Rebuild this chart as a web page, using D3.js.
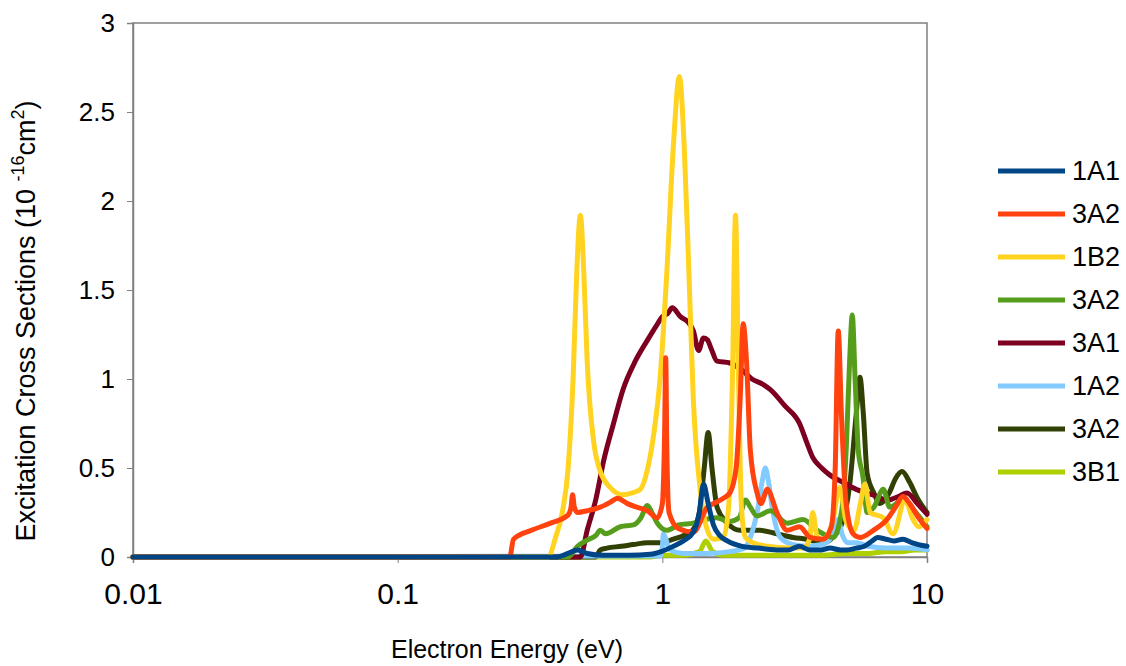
<!DOCTYPE html>
<html>
<head>
<meta charset="utf-8">
<script src="https://cdn.jsdelivr.net/npm/d3@7"></script>
<style>
  body { margin: 0; background: #fff; }
  svg { font-family: "Liberation Sans", Arial, sans-serif; }
</style>
</head>
<body>
<svg id="chart" width="1126" height="666"></svg>
<script>
// legend order
const seriesNames = ["1A1", "3A2", "1B2", "3A2", "3A1", "1A2", "3A2", "3B1"];
const seriesColors = ["#004586", "#ff420e", "#ffd320", "#579d1c", "#7e0021", "#83caff", "#314004", "#aecf00"];

const xTicks = [0.01, 0.1, 1, 10];
const xTickLabels = ["0.01", "0.1", "1", "10"];
const yTicks = [0, 0.5, 1, 1.5, 2, 2.5, 3];
const yTickLabels = ["0", "0.5", "1", "1.5", "2", "2.5", "3"];

// energies (eV) and cross sections (10^-16 cm2)
const e1A1 = [0.01, 0.4, 0.44, 0.478, 0.52, 0.6, 0.75, 0.9, 0.99, 1.1, 1.2, 1.31, 1.38, 1.43, 1.49, 1.56, 1.65, 1.76, 2.0, 2.3, 2.7, 3.0, 3.3, 3.6, 4.0, 4.3, 4.7, 5.0, 5.4, 5.8, 6.2, 6.5, 7.0, 7.5, 8.1, 8.8, 10];
const v1A1 = [0, 0, 0.02, 0.04, 0.02, 0.01, 0.01, 0.015, 0.03, 0.06, 0.09, 0.14, 0.25, 0.41, 0.3, 0.18, 0.12, 0.09, 0.06, 0.05, 0.04, 0.04, 0.06, 0.04, 0.04, 0.05, 0.04, 0.04, 0.05, 0.06, 0.09, 0.11, 0.1, 0.09, 0.1, 0.08, 0.06];

const e3A2a = [0.01, 0.265, 0.274, 0.32, 0.378, 0.44, 0.452, 0.458, 0.465, 0.478, 0.52, 0.583, 0.64, 0.676, 0.738, 0.8, 0.878, 0.957, 1.0, 1.02, 1.03, 1.04, 1.06, 1.15, 1.31, 1.48, 1.56, 1.7, 1.8, 1.9, 1.97, 2.02, 2.08, 2.15, 2.28, 2.36, 2.49, 2.71, 2.96, 3.3, 3.62, 4.05, 4.35, 4.5, 4.62, 4.75, 4.95, 5.26, 5.58, 6.27, 7.05, 7.6, 8.1, 8.6, 9.3, 10];
const v3A2a = [0, 0, 0.1, 0.15, 0.19, 0.235, 0.28, 0.35, 0.28, 0.25, 0.26, 0.28, 0.31, 0.33, 0.3, 0.28, 0.26, 0.22, 0.3, 0.7, 1.12, 0.6, 0.25, 0.16, 0.14, 0.28, 0.3, 0.33, 0.36, 0.5, 0.9, 1.31, 1.1, 0.6, 0.36, 0.3, 0.38, 0.25, 0.15, 0.17, 0.11, 0.1, 0.17, 0.5, 1.27, 0.8, 0.3, 0.13, 0.11, 0.15, 0.21, 0.28, 0.34, 0.3, 0.22, 0.16];

const e1B2 = [0.01, 0.37, 0.395, 0.42, 0.44, 0.46, 0.475, 0.49, 0.505, 0.52, 0.55, 0.58, 0.636, 0.71, 0.77, 0.826, 0.878, 0.93, 0.98, 1.04, 1.1, 1.16, 1.21, 1.26, 1.31, 1.39, 1.48, 1.56, 1.7, 1.78, 1.84, 1.89, 1.94, 1.99, 2.06, 2.2, 2.5, 3.0, 3.4, 3.6, 3.7, 3.85, 4.05, 4.4, 4.68, 4.95, 5.3, 5.6, 5.83, 6.1, 6.84, 7.44, 8.27, 8.8, 9.3, 10];
const v1B2 = [0, 0, 0.11, 0.26, 0.49, 1.0, 1.6, 1.92, 1.6, 1.1, 0.65, 0.49, 0.39, 0.35, 0.36, 0.38, 0.49, 0.7, 1.0, 1.6, 2.3, 2.7, 2.3, 1.6, 0.88, 0.38, 0.15, 0.1, 0.11, 0.28, 1.0, 1.92, 1.0, 0.28, 0.11, 0.08, 0.06, 0.05, 0.05, 0.1, 0.25, 0.11, 0.1, 0.2, 0.39, 0.2, 0.15, 0.3, 0.41, 0.25, 0.22, 0.13, 0.32, 0.22, 0.17, 0.21];

const e3A2b = [0.01, 0.44, 0.478, 0.52, 0.56, 0.583, 0.61, 0.694, 0.777, 0.83, 0.878, 0.92, 0.957, 1.04, 1.15, 1.31, 1.45, 1.6, 1.8, 1.95, 2.06, 2.15, 2.28, 2.56, 2.96, 3.4, 3.85, 4.42, 4.75, 4.95, 5.1, 5.22, 5.35, 5.5, 5.73, 5.94, 6.3, 6.84, 7.23, 8.1, 8.7, 10];
const v3A2b = [0, 0, 0.06, 0.095, 0.12, 0.15, 0.13, 0.17, 0.18, 0.22, 0.29, 0.24, 0.19, 0.15, 0.18, 0.19, 0.21, 0.22, 0.2, 0.22, 0.32, 0.28, 0.23, 0.26, 0.19, 0.21, 0.15, 0.11, 0.25, 0.6, 1.1, 1.36, 1.0, 0.6, 0.45, 0.25, 0.28, 0.38, 0.28, 0.32, 0.28, 0.17];

const e3A1 = [0.01, 0.49, 0.52, 0.56, 0.6, 0.654, 0.71, 0.79, 0.88, 0.95, 1.0, 1.05, 1.09, 1.17, 1.25, 1.31, 1.37, 1.43, 1.48, 1.53, 1.61, 1.8, 2.0, 2.18, 2.4, 2.56, 2.9, 3.3, 3.5, 3.7, 4.0, 4.3, 4.8, 5.4, 6.2, 7.1, 7.8, 8.4, 9.2, 10];
const v3A1 = [0, 0, 0.15, 0.32, 0.54, 0.75, 0.94, 1.1, 1.22, 1.3, 1.35, 1.37, 1.4, 1.35, 1.32, 1.27, 1.16, 1.23, 1.22, 1.17, 1.1, 1.09, 1.05, 1.0, 0.97, 0.94, 0.85, 0.75, 0.65, 0.56, 0.5, 0.46, 0.42, 0.38, 0.35, 0.32, 0.34, 0.36, 0.3, 0.24];

const e1A2 = [0.01, 0.98, 1.0, 1.01, 1.03, 1.07, 1.2, 1.5, 1.8, 2.05, 2.15, 2.3, 2.38, 2.45, 2.52, 2.6, 2.79, 3.1, 3.5, 4.0, 4.4, 4.6, 4.8, 5.0, 5.4, 6.0, 7.0, 8.5, 10];
const v1A2 = [0, 0.005, 0.06, 0.13, 0.1, 0.04, 0.02, 0.02, 0.03, 0.05, 0.11, 0.28, 0.42, 0.5, 0.42, 0.28, 0.11, 0.07, 0.06, 0.07, 0.12, 0.21, 0.12, 0.08, 0.08, 0.06, 0.05, 0.05, 0.04];

const e3A2c = [0.01, 0.56, 0.583, 0.617, 0.7, 0.777, 0.88, 0.99, 1.1, 1.2, 1.3, 1.38, 1.44, 1.49, 1.54, 1.61, 1.76, 1.97, 2.34, 2.71, 3.12, 3.5, 4.05, 4.4, 4.8, 5.1, 5.4, 5.58, 5.75, 5.94, 6.3, 6.65, 7.2, 7.6, 8.05, 8.6, 9.2, 10];
const v3A2c = [0, 0, 0.04, 0.05, 0.06, 0.07, 0.08, 0.08, 0.1, 0.12, 0.15, 0.25, 0.5, 0.7, 0.5, 0.28, 0.19, 0.15, 0.15, 0.13, 0.11, 0.1, 0.08, 0.11, 0.2, 0.4, 0.8, 1.01, 0.8, 0.47, 0.36, 0.3, 0.36, 0.44, 0.48, 0.42, 0.33, 0.25];

const e3B1 = [0.01, 0.9, 1.0, 1.2, 1.38, 1.46, 1.55, 1.7, 2.0, 3.0, 4.0, 5.0, 6.0, 7.0, 8.0, 9.0, 10];
const v3B1 = [0, 0, 0.01, 0.01, 0.03, 0.09, 0.03, 0.01, 0.01, 0.01, 0.01, 0.02, 0.02, 0.03, 0.03, 0.04, 0.04];

const energies = [e1A1, e3A2a, e1B2, e3A2b, e3A1, e1A2, e3A2c, e3B1];
const values = [v1A1, v3A2a, v1B2, v3A2b, v3A1, v1A2, v3A2c, v3B1];

const svg = d3.select("#chart");
const plot = {left: 133, right: 927, top: 23, bottom: 557};

const x = d3.scaleLog().domain([0.01, 10]).range([plot.left, plot.right]);
const y = d3.scaleLinear().domain([0, 3]).range([plot.bottom, plot.top]);

// frame
svg.append("rect")
    .attr("x", plot.left).attr("y", plot.top)
    .attr("width", plot.right - plot.left).attr("height", plot.bottom - plot.top)
    .attr("fill", "none").attr("stroke", "#808080").attr("stroke-width", 1.5);

const yAxis = d3.axisLeft(y).tickValues(yTicks)
    .tickFormat((d, i) => yTickLabels[i]).tickSize(6).tickPadding(12);
svg.append("g").attr("transform", "translate(" + plot.left + ",0)")
    .call(yAxis)
    .call(g => g.select(".domain").attr("stroke", "#808080").attr("stroke-width", 1.5))
    .call(g => g.selectAll(".tick line").attr("stroke", "#808080"))
    .selectAll("text").style("font-size", "26px").attr("fill", "#000");

const xAxis = d3.axisBottom(x).tickValues(xTicks)
    .tickFormat((d, i) => xTickLabels[i]).tickSize(6).tickPadding(20);
svg.append("g").attr("transform", "translate(0," + plot.bottom + ")")
    .call(xAxis)
    .call(g => g.select(".domain").attr("stroke", "#808080").attr("stroke-width", 1.5))
    .call(g => g.selectAll(".tick line").attr("stroke", "#808080"))
    .selectAll("text").style("font-size", "30px").attr("fill", "#000");

const line = d3.line()
    .x(d => x(d[0]))
    .y(d => y(d[1]))
    .curve(d3.curveMonotoneX);

// last legend entry is drawn first, 1A1 ends on top
const order = d3.range(seriesNames.length).reverse();
svg.append("g").selectAll("path")
    .data(order)
    .enter()
    .append("path")
    .attr("d", i => line(d3.zip(energies[i], values[i])))
    .attr("fill", "none")
    .attr("stroke", i => seriesColors[i])
    .attr("stroke-width", 5)
    .attr("stroke-linejoin", "round")
    .attr("stroke-linecap", "round");

// legend
const legend = svg.append("g");
const ly = d3.scalePoint().domain(d3.range(seriesNames.length)).range([171, 472]);
legend.selectAll("line")
    .data(seriesNames)
    .enter()
    .append("line")
    .attr("x1", 998).attr("x2", 1065)
    .attr("y1", (d, i) => ly(i)).attr("y2", (d, i) => ly(i))
    .attr("stroke", (d, i) => seriesColors[i])
    .attr("stroke-width", 5);
legend.selectAll("text")
    .data(seriesNames)
    .enter()
    .append("text")
    .attr("x", 1072)
    .attr("y", (d, i) => ly(i))
    .attr("dy", "0.35em")
    .style("font-size", "27px")
    .text(d => d);

// axis titles
svg.append("text")
    .attr("x", (plot.left + plot.right) / 2 - 23)
    .attr("y", 658)
    .attr("text-anchor", "middle")
    .style("font-size", "25px")
    .text("Electron Energy (eV)");

const yTitle = svg.append("text")
    .attr("transform", "translate(35,321) rotate(-90)")
    .attr("text-anchor", "middle")
    .style("font-size", "27px");
yTitle.append("tspan").text("Excitation Cross Sections (10 ");
yTitle.append("tspan").attr("dy", -11).style("font-size", "18px").text("-16");
yTitle.append("tspan").attr("dy", 11).text("cm");
yTitle.append("tspan").attr("dy", -11).style("font-size", "18px").text("2");
yTitle.append("tspan").attr("dy", 11).text(")");
</script>
</body>
</html>
